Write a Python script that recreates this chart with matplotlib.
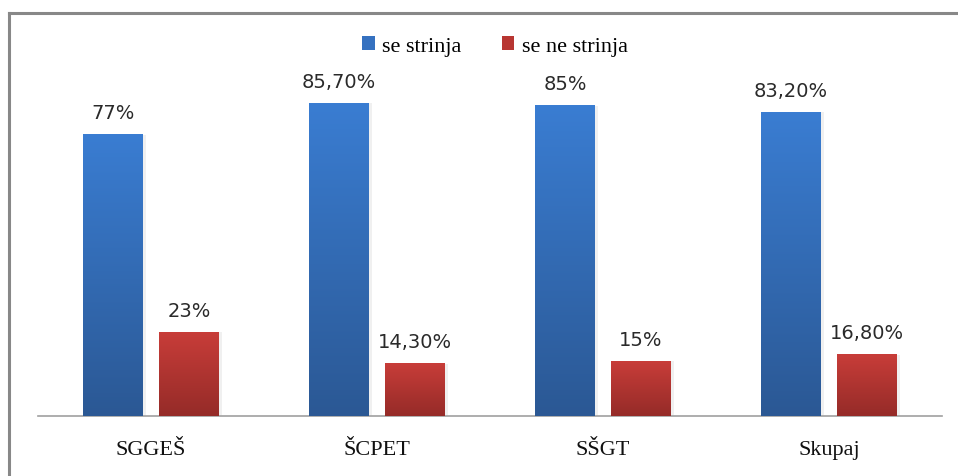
import matplotlib
matplotlib.use("Agg")
import matplotlib.pyplot as plt
import numpy as np
from matplotlib.colors import LinearSegmentedColormap
from matplotlib.patches import Patch
from matplotlib.lines import Line2D

categories = ["SGGEŠ", "ŠCPET", "SŠGT", "Skupaj"]
agree = [77.0, 85.7, 85.0, 83.2]
disagree = [23.0, 14.3, 15.0, 16.8]
agree_labels = ["77%", "85,70%", "85%", "83,20%"]
disagree_labels = ["23%", "14,30%", "15%", "16,80%"]
series_names = ["se strinja", "se ne strinja"]

W, H = 958, 477
fig = plt.figure(figsize=(W / 100, H / 100), dpi=100)

# frame (left and top)
fig.add_artist(Line2D([9 / W, 9 / W], [0, 1 - 14 / H], transform=fig.transFigure, color="#888888", lw=2.2))
fig.add_artist(Line2D([9 / W, 1], [1 - 14 / H, 1 - 14 / H], transform=fig.transFigure, color="#888888", lw=2.2))

ax_left, ax_right = 38, 942
ax_bottom = 417
px_per = 3.65
ax_top = ax_bottom - 100 * px_per
ax = fig.add_axes([ax_left / W, 1 - ax_bottom / H, (ax_right - ax_left) / W, (ax_bottom - ax_top) / H])

x = np.arange(len(categories))
bw = 60 / 226
off = 38 / 226

blue_cmap = LinearSegmentedColormap.from_list("b", ["#2b5894", "#3a7dd2"])
red_cmap = LinearSegmentedColormap.from_list("r", ["#952b28", "#c83d39"])

b1 = ax.bar(x - off, agree, bw, color="#3571c0", zorder=2)
b2 = ax.bar(x + off, disagree, bw, color="#b83632", zorder=2)

grad = np.linspace(0, 1, 256).reshape(-1, 1)
for bars, cmap in ((b1, blue_cmap), (b2, red_cmap)):
    for p in bars:
        x0, y0 = p.get_x(), p.get_y()
        w, h = p.get_width(), p.get_height()
        ax.bar(x0 + w / 2 + 0.012, h, w, bottom=y0, color="#000000", alpha=0.06, zorder=1)
        ax.imshow(grad, cmap=cmap, origin="lower", aspect="auto",
                  extent=(x0, x0 + w, y0, y0 + h), zorder=3)
ax.set_xlim(-0.5, len(categories) - 0.5)
ax.set_ylim(0, 100)

for bars, labels in ((b1, agree_labels), (b2, disagree_labels)):
    for p, lab in zip(bars, labels):
        ax.annotate(lab, (p.get_x() + p.get_width() / 2, p.get_height()),
                    xytext=(0, 9), textcoords="offset points", ha="center", va="bottom",
                    fontsize=14, color="#2a2a2a", family="DejaVu Sans", zorder=5)

for s in ["top", "right", "left"]:
    ax.spines[s].set_visible(False)
ax.spines["bottom"].set_color("#a0a0a0")
ax.spines["bottom"].set_linewidth(1.2)
ax.set_yticks([])
ax.set_xticks(x)
ax.set_xticklabels(categories, family="Liberation Serif", fontsize=16, color="#111111")
ax.tick_params(axis="x", length=0, pad=17)

handles = [Patch(facecolor="#3571c0"), Patch(facecolor="#b83632")]
fig.legend(handles, series_names, loc="center", bbox_to_anchor=(495 / W, 1 - 47 / H),
           ncol=2, frameon=False, prop={"family": "Liberation Serif", "size": 16},
           handlelength=0.55, handleheight=0.55, handletextpad=0.35, columnspacing=1.8)

fig.savefig("out.png", dpi=100)
